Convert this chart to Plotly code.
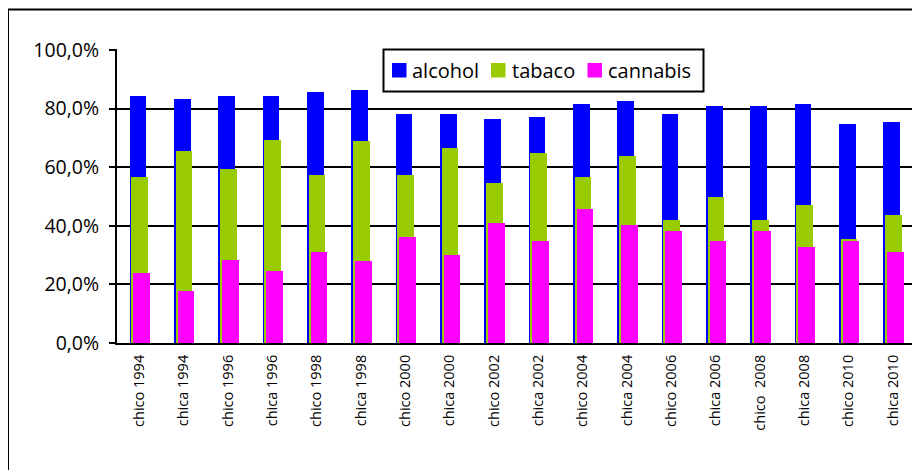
import plotly.graph_objects as go

categories = ["chico 1994", "chica 1994", "chico 1996", "chica 1996", "chico 1998", "chica 1998",
              "chico 2000", "chica 2000", "chico 2002", "chica 2002", "chico 2004", "chica 2004",
              "chico 2006", "chica 2006", "chico  2008", "chica 2008", "chico 2010", "chica 2010"]
alcohol = [0.844, 0.834, 0.844, 0.844, 0.855, 0.862, 0.780, 0.780, 0.763, 0.770, 0.817, 0.824,
           0.780, 0.807, 0.807, 0.817, 0.746, 0.753]
tabaco = [0.566, 0.654, 0.593, 0.692, 0.572, 0.688, 0.572, 0.664, 0.545, 0.647, 0.566, 0.637,
          0.419, 0.498, 0.419, 0.470, 0.355, 0.436]
cannabis = [0.239, 0.178, 0.283, 0.246, 0.311, 0.280, 0.362, 0.300, 0.409, 0.348, 0.457, 0.402,
            0.382, 0.348, 0.382, 0.327, 0.348, 0.311]
series_names = ["alcohol", "tabaco", "cannabis"]
tick_vals = [0, 0.2, 0.4, 0.6, 0.8, 1.0]
tick_text = ["0,0%", "20,0%", "40,0%", "60,0%", "80,0%", "100,0%"]

colors = ["#0000FF", "#99CC00", "#FF00FF"]
offsets = [-0.216, -0.178, -0.135]
font = "Open Sans"

fig = go.Figure()
for name, vals, col, off in zip(series_names, [alcohol, tabaco, cannabis], colors, offsets):
    fig.add_trace(go.Bar(x=categories, y=vals, name=name, marker=dict(color=col, line=dict(width=0)),
                         width=0.38, offset=off, showlegend=False))

# page has an 8px body margin; figure origin sits at (8, 8) on screen
S = 8
W, H = 912, 462
L, R, T, B = 117 - S, 5, 49 - S, 127
pw, ph = W - L - R, H - T - B

def px_x(x):
    return (x - S - L) / pw

def px_y(y):
    return (H - B - (y - S)) / ph

fig.update_layout(
    width=W, height=H,
    margin=dict(l=L, r=R, t=T, b=B),
    barmode="overlay",
    plot_bgcolor="white", paper_bgcolor="white",
    font=dict(family=font, color="black"),
    showlegend=False,
    xaxis=dict(type="category", showgrid=False, showline=True, linecolor="black", linewidth=2,
               tickangle=-90, tickfont=dict(size=14.5, family=font), ticks="", ticklabelstandoff=4,
               range=[-0.5, len(categories) - 0.5]),
    yaxis=dict(range=[0, 1.003], tickvals=tick_vals, ticktext=tick_text, showgrid=True,
               gridcolor="black", gridwidth=2, showline=True, linecolor="black", linewidth=2,
               ticks="outside", ticklen=6, tickwidth=2, tickcolor="black",
               tickfont=dict(size=19.5, family=font), zeroline=False, ticklabelstandoff=6),
    bargap=0,
)

# outer chart frame
fig.add_shape(type="rect", xref="paper", yref="paper",
              x0=px_x(8), x1=px_x(919), y0=px_y(9.5), y1=px_y(480),
              line=dict(color="black", width=2), fillcolor="rgba(0,0,0,0)", layer="above")

# legend box with swatches and labels
fig.add_shape(type="rect", xref="paper", yref="paper",
              x0=px_x(383.5), x1=px_x(703.5), y0=px_y(91.5), y1=px_y(49.5),
              line=dict(color="black", width=2), fillcolor="white", layer="above")
swatch_x = [392, 491, 587.5]
text_x = [410, 510, 606]
for name, col, sx, tx in zip(series_names, colors, swatch_x, text_x):
    fig.add_shape(type="rect", xref="paper", yref="paper",
                  x0=px_x(sx), x1=px_x(sx + 14.5), y0=px_y(77.5), y1=px_y(63),
                  line=dict(width=0), fillcolor=col, layer="above")
    fig.add_annotation(text=name, xref="paper", yref="paper", x=px_x(tx), y=px_y(70.5),
                       xanchor="left", yanchor="middle", showarrow=False,
                       font=dict(size=20, family=font, color="black"))

fig.write_html("out.html")
